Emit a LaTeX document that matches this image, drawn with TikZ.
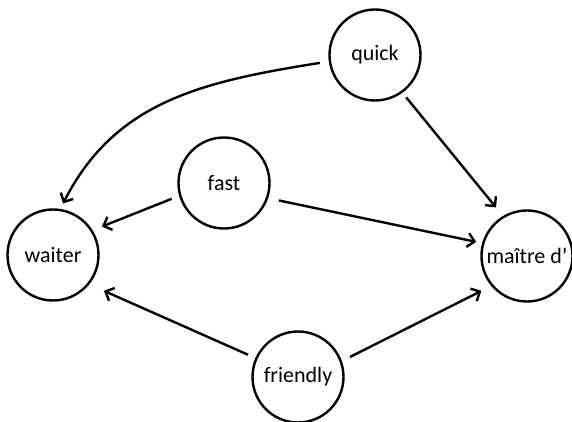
\documentclass[tikz,border=0pt]{standalone}
\usepackage{fontspec}
\setmainfont{Carlito}
\usetikzlibrary{arrows.meta}
\begin{document}
\begin{tikzpicture}[x=1pt,y=1pt,
  term/.style={circle,draw=black,line width=2.4pt,minimum size=91pt,inner sep=0pt,font=\fontsize{22}{26}\selectfont},
  link/.style={line width=2.4pt,-{Straight Barb[length=7pt,width=14pt]}}]
\useasboundingbox (0,0) rectangle (572,422);
\node[term] (quick) at (375,367) {quick};
\node[term] (fast) at (224,239) {fast};
\node[term] (waiter) at (53,167) {waiter};
\node[term] (maitre) at (527,166) {maître d’};
\node[term] (friendly) at (298,45) {friendly};
\draw[link,shorten <=9pt,shorten >=6pt] (quick.188) .. controls +(189:130) and +(63:120) .. (waiter.81);
\draw[link,shorten <=6pt,shorten >=11pt] (quick.306) -- (maitre.121);
\draw[link,shorten <=8pt,shorten >=10pt] (fast.196) -- (waiter.32);
\draw[link,shorten <=11pt,shorten >=6pt] (fast.341) -- (maitre.164);
\draw[link,shorten <=8pt,shorten >=16pt] (friendly.156) -- (waiter.321);
\draw[link,shorten <=9pt,shorten >=11pt] (friendly.20) -- (maitre.220);
\end{tikzpicture}
\end{document}
